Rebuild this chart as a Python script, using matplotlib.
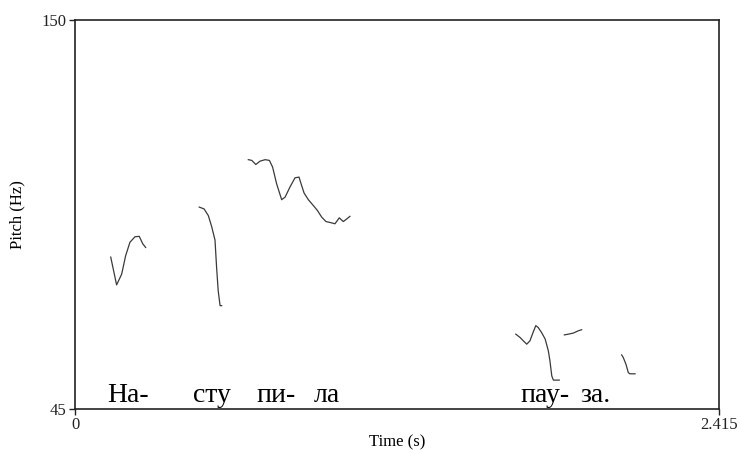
import numpy as np
import matplotlib.pyplot as plt

plt.rcParams['font.family'] = ['Liberation Serif', 'DejaVu Serif']

# pitch contour pieces (time in s, pitch in Hz)
seg1_t = [0.134, 0.156, 0.175, 0.190, 0.206, 0.225, 0.241, 0.254, 0.265]
seg1_f = [86.0, 78.5, 81.4, 86.4, 90.0, 91.5, 91.6, 89.6, 88.6]

seg2_t = [0.466, 0.484, 0.500, 0.513, 0.525, 0.531, 0.537, 0.544, 0.550]
seg2_f = [99.5, 99.0, 97.2, 94.1, 90.6, 83.2, 76.9, 72.9, 72.9]

seg3_t = [0.650, 0.663, 0.678, 0.694, 0.713, 0.729, 0.741, 0.756, 0.775,
          0.788, 0.806, 0.825, 0.840, 0.846, 0.859, 0.875, 0.894, 0.909,
          0.925, 0.941, 0.959, 0.975, 0.991, 1.006, 1.019, 1.031]
seg3_f = [112.3, 112.1, 111.0, 111.9, 112.3, 112.1, 110.3, 105.8, 101.5,
          102.2, 104.9, 107.4, 107.6, 106.2, 103.3, 101.5, 99.9, 98.6,
          96.8, 95.6, 95.3, 95.0, 96.6, 95.6, 96.3, 97.0]

seg4_t = [1.653, 1.669, 1.684, 1.694, 1.706, 1.719, 1.728, 1.737, 1.750,
          1.763, 1.775, 1.781, 1.788, 1.794, 1.816]
seg4_f = [65.2, 64.3, 63.2, 62.5, 63.4, 65.9, 67.5, 67.0, 65.6,
          63.9, 60.7, 58.0, 53.9, 52.8, 52.8]

seg5_t = [1.835, 1.850, 1.869, 1.887, 1.900]
seg5_f = [65.0, 65.2, 65.5, 66.1, 66.4]

seg6_t = [2.050, 2.056, 2.066, 2.075, 2.081, 2.100]
seg6_f = [59.6, 58.9, 57.1, 54.8, 54.5, 54.5]

segments = [(seg1_t, seg1_f), (seg2_t, seg2_f), (seg3_t, seg3_f),
            (seg4_t, seg4_f), (seg5_t, seg5_f), (seg6_t, seg6_f)]

# syllable annotations and their start times
syllables = ['На-', 'сту', 'пи-', 'ла', 'пау-', 'за.']
syll_t = [0.119, 0.444, 0.681, 0.894, 1.671, 1.894]

t_max = 2.415
f_min, f_max = 45, 150

fig = plt.figure(figsize=(7.4, 4.5), dpi=100)
ax = fig.add_axes([75/740, 1 - 409/450, 644/740, 389/450])

for t, f in segments:
    ax.plot(t, f, color='#3a3a3a', lw=0.9)

for s, t in zip(syllables, syll_t):
    ax.text(t, 47, s, fontsize=20, ha='left', va='baseline', color='black')

ax.set_xlim(0, t_max)
ax.set_ylim(f_min, f_max)
ax.set_xticks([0, t_max])
ax.set_xticklabels(['0', '2.415'])
ax.set_yticks([f_min, f_max])
ax.set_yticklabels(['45', '150'])
ax.tick_params(direction='out', length=4, width=1, labelsize=12, pad=2,
               colors='#222222')
for sp in ax.spines.values():
    sp.set_color('#222222')
    sp.set_linewidth(1.2)

ax.set_xlabel('Time (s)', fontsize=12, labelpad=1)
ax.set_ylabel('Pitch (Hz)', fontsize=12, labelpad=12)

fig.savefig('out.png', dpi=100)
